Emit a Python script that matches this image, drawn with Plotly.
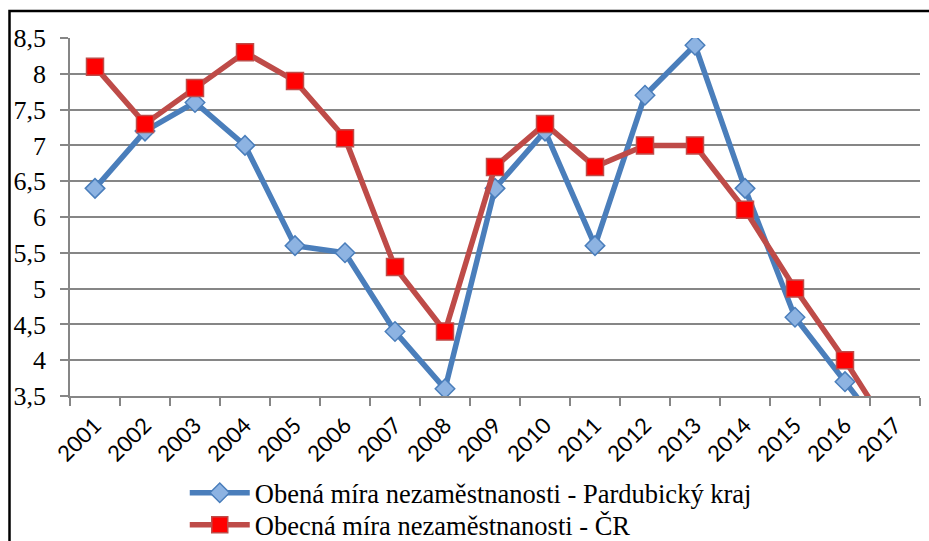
import plotly.graph_objects as go

years = [str(y) for y in range(2001, 2018)]
pardubicky = [6.4, 7.2, 7.6, 7.0, 5.6, 5.5, 4.4, 3.6, 6.4, 7.2, 5.6, 7.7, 8.4, 6.4, 4.6, 3.7, 2.8]
cr = [8.1, 7.3, 7.8, 8.3, 7.9, 7.1, 5.3, 4.4, 6.7, 7.3, 6.7, 7.0, 7.0, 6.1, 5.0, 4.0, 2.9]
y_tick_vals = [3.5, 4, 4.5, 5, 5.5, 6, 6.5, 7, 7.5, 8, 8.5]
y_tick_text = ["3,5", "4", "4,5", "5", "5,5", "6", "6,5", "7", "7,5", "8", "8,5"]

SERIF = "Liberation Serif, DejaVu Serif, serif"
SANS = "Lato, Liberation Sans, sans-serif"

fig = go.Figure()
fig.add_trace(go.Scatter(
    x=years, y=pardubicky, mode="lines+markers",
    name="Obená míra nezaměstnanosti - Pardubický kraj",
    line=dict(color="#4A7EBB", width=5.5),
    marker=dict(symbol="diamond", size=15, color="#8DB3E2",
                line=dict(color="#4A7EBB", width=1.5)),
    legend="legend",
))
fig.add_trace(go.Scatter(
    x=years, y=cr, mode="lines+markers",
    name="Obecná míra nezaměstnanosti - ČR",
    line=dict(color="#BE4B48", width=5.5),
    marker=dict(symbol="square", size=17, color="#FF0000",
                line=dict(color="#BE4B48", width=1.5)),
    legend="legend2",
))

leg_common = dict(orientation="v", x=0.135, xanchor="left", yanchor="middle",
                  font=dict(family=SERIF, size=26.5), itemwidth=60,
                  bgcolor="rgba(0,0,0,0)")

fig.update_layout(
    width=929, height=541,
    margin=dict(l=70, r=9, t=38, b=145, autoexpand=False),
    paper_bgcolor="white", plot_bgcolor="white",
    font=dict(family=SERIF, size=26, color="black"),
    showlegend=True,
    legend=dict(y=(396 - 493) / 358, **leg_common),
    legend2=dict(y=(396 - 525) / 358, **leg_common),
    xaxis=dict(type="category", range=[-0.5, 16.5], tickson="boundaries",
               ticks="outside", ticklen=8, tickcolor="#868686", tickwidth=1.5,
               showline=True, linecolor="#868686", linewidth=1.5,
               showgrid=False, tickangle=-45, zeroline=False, automargin=False,
               ticklabelstandoff=6,
               tickfont=dict(family=SANS, size=22)),
    yaxis=dict(range=[3.5, 8.5], tickvals=y_tick_vals, ticktext=y_tick_text,
               ticks="outside", ticklen=8, tickcolor="#868686", tickwidth=1.5,
               showline=True, linecolor="#868686", linewidth=1.5, automargin=False,
               showgrid=True, gridcolor="#868686", gridwidth=1.75, zeroline=False,
               ticklabelstandoff=9,
               tickfont=dict(family=SERIF, size=26)),
    shapes=[dict(type="rect", xref="paper", yref="paper",
                 x0=(9.5 - 70) / 850, x1=1.3, y0=-1.0, y1=(396 - 11) / 358,
                 line=dict(color="black", width=2.5), layer="above")],
)

fig.write_html("out.html", config={"displayModeBar": False},
               post_script="document.body.style.margin='0';document.body.style.overflow='hidden';")
